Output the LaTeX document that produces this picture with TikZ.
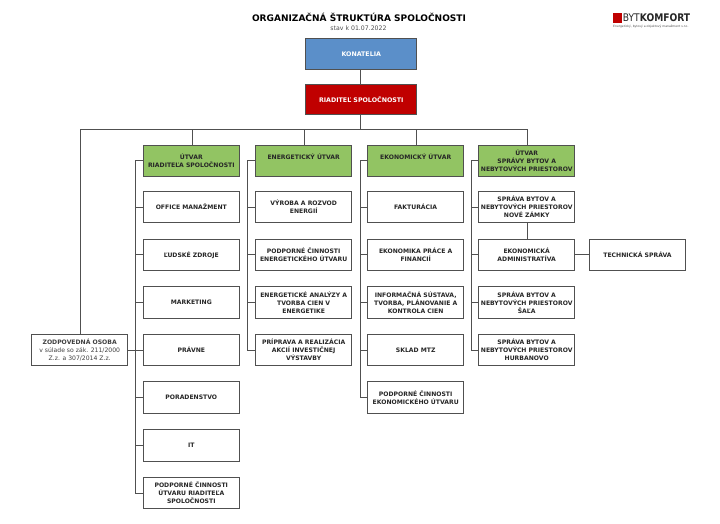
\documentclass[tikz,border=0pt]{standalone}
\usepackage{fontspec}
\setmainfont{DejaVu Sans}
\definecolor{lineC}{HTML}{505050}
\definecolor{blueC}{HTML}{5B8FC9}
\definecolor{redC}{HTML}{C00000}
\definecolor{greenC}{HTML}{92C463}
\tikzset{
 box/.style={draw=lineC,line width=1pt,fill=white,minimum width=96.5pt,minimum height=31.5pt,inner sep=0pt,align=center,font=\fontsize{6.1}{8}\selectfont\bfseries,text=black!85},
 greenbox/.style={box,fill=greenC},
 topbox/.style={box,text=white,minimum width=111pt,minimum height=30.5pt,font=\fontsize{6.3}{8}\selectfont\bfseries},
 conn/.style={draw=lineC,line width=1pt},
}
\begin{document}
\begin{tikzpicture}[x=1pt,y=-1pt]
\useasboundingbox (0,0) rectangle (720,524);
\node[font=\fontsize{9.02}{10}\selectfont\bfseries,text=black] (title) at (359,17.3) {ORGANIZAČNÁ ŠTRUKTÚRA SPOLOČNOSTI};
\node[font=\fontsize{6.2}{8}\selectfont,text=black!70] (date) at (358.5,27.7) {stav k 01.07.2022};
% logo
\fill[red!75!black] (612.5,13.3) rectangle (622,22.7);
\node[anchor=west,inner sep=0pt,xscale=0.87,font=\fontsize{10.5}{11}\selectfont,text=black!85] (logo) at (622.7,18) {BYT\textbf{KOMFORT}};
\node[anchor=west,inner sep=0pt,font=\fontsize{3}{4}\selectfont,text=black!70] (logosub) at (613,26.7) {Energetický, bytový a objektový manažment s.r.o.};
% top
\node[topbox,fill=blueC] (kon) at (361.3,54) {KONATELIA};
\node[topbox,fill=redC] (rid) at (361.3,99.3) {RIADITEĽ SPOLOČNOSTI};
% heads
\node[greenbox] (g1) at (191.3,160.8) {ÚTVAR\\RIADITEĽA SPOLOČNOSTI};
\node[greenbox] (g2) at (303.7,160.8) {ENERGETICKÝ ÚTVAR\\\mbox{}};
\node[greenbox] (g3) at (415.7,160.8) {EKONOMICKÝ ÚTVAR\\\mbox{}};
\node[greenbox] (g4) at (526.7,160.8) {ÚTVAR\\SPRÁVY BYTOV A\\NEBYTOVÝCH PRIESTOROV};
% column 1
\node[box] (a1) at (191.3,207) {OFFICE MANAŽMENT};
\node[box] (a2) at (191.3,254.8) {ĽUDSKÉ ZDROJE};
\node[box] (a3) at (191.3,302.5) {MARKETING};
\node[box] (a4) at (191.3,350) {PRÁVNE};
\node[box] (a5) at (191.3,397.7) {PORADENSTVO};
\node[box] (a6) at (191.3,445.3) {IT};
\node[box] (a7) at (191.3,493) {PODPORNÉ ČINNOSTI\\ÚTVARU RIADITEĽA\\SPOLOČNOSTI};
% column 2
\node[box] (b1) at (303.7,207) {VÝROBA A ROZVOD\\ENERGIÍ};
\node[box] (b2) at (303.7,254.8) {PODPORNÉ ČINNOSTI\\ENERGETICKÉHO ÚTVARU};
\node[box] (b3) at (303.7,302.5) {ENERGETICKÉ ANALÝZY A\\TVORBA CIEN V\\ENERGETIKE};
\node[box] (b4) at (303.7,350) {PRÍPRAVA A REALIZÁCIA\\AKCIÍ INVESTIČNEJ\\VÝSTAVBY};
% column 3
\node[box] (c1) at (415.7,207) {FAKTURÁCIA};
\node[box] (c2) at (415.7,254.8) {EKONOMIKA PRÁCE A\\FINANCIÍ};
\node[box] (c3) at (415.7,302.5) {INFORMAČNÁ SÚSTAVA,\\TVORBA, PLÁNOVANIE A\\KONTROLA CIEN};
\node[box] (c4) at (415.7,350) {SKLAD MTZ};
\node[box] (c5) at (415.7,397.7) {PODPORNÉ ČINNOSTI\\EKONOMICKÉHO ÚTVARU};
% column 4
\node[box] (d1) at (526.7,207) {SPRÁVA BYTOV A\\NEBYTOVÝCH PRIESTOROV\\NOVÉ ZÁMKY};
\node[box] (d2) at (526.7,254.8) {EKONOMICKÁ\\ADMINISTRATÍVA};
\node[box] (d3) at (526.7,302.5) {SPRÁVA BYTOV A\\NEBYTOVÝCH PRIESTOROV\\ŠAĽA};
\node[box] (d4) at (526.7,350) {SPRÁVA BYTOV A\\NEBYTOVÝCH PRIESTOROV\\HURBANOVO};
\node[box] (tech) at (637.5,254.8) {TECHNICKÁ SPRÁVA};
\node[box,font=\fontsize{6.1}{8}\selectfont,text=black!75] (zo) at (79.7,350) {\textbf{ZODPOVEDNÁ OSOBA}\\v súlade so zák. 211/2000\\Z.z. a 307/2014 Z.z.};
% connectors
\coordinate (bus) at (360.5,129.6);
\coordinate (s1) at (135.3,160.8);
\coordinate (s2) at (247.3,160.8);
\coordinate (s3) at (360,160.8);
\coordinate (s4) at (471,160.8);
\draw[conn] ([xshift=-0.8pt]kon.south) -- ([xshift=-0.8pt]rid.north);
\draw[conn] ([xshift=-0.8pt]rid.south) -- (bus);
\draw[conn] ([xshift=1pt]zo.north) |- (bus);
\draw[conn] (bus) -| ([xshift=1pt]g4.north);
\draw[conn] ([xshift=1.2pt]g1.north) |- (bus);
\draw[conn] ([xshift=1.2pt]g2.north) |- (bus);
\draw[conn] ([xshift=1pt]g3.north) |- (bus);
\draw[conn] (zo) -- (a4);
\foreach \n in {a1,a2,a3,a4,a5,a6,a7} \draw[conn] (s1) |- (\n.west);
\draw[conn] (g1) -- (s1);
\foreach \n in {b1,b2,b3,b4} \draw[conn] (s2) |- (\n.west);
\draw[conn] (g2) -- (s2);
\foreach \n in {c1,c2,c3,c4,c5} \draw[conn] (s3) |- (\n.west);
\draw[conn] (g3) -- (s3);
\foreach \n in {d1,d2,d3,d4} \draw[conn] (s4) |- (\n.west);
\draw[conn] (g4) -- (s4);
\draw[conn] ([xshift=1pt]d1.south) -- ([xshift=1pt]d2.north);
\draw[conn] (d2) -- (tech);
\end{tikzpicture}
\end{document}
